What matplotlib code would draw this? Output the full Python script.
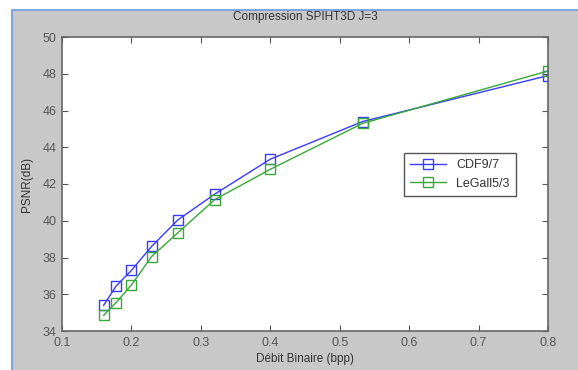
import matplotlib.pyplot as plt
from matplotlib.patches import Rectangle

plt.rcParams['font.family'] = ['Liberation Sans', 'DejaVu Sans']

# Debit binaire (bpp) and PSNR values
bpp = [0.16, 0.178, 0.2, 0.229, 0.267, 0.32, 0.4, 0.533, 0.8]
psnr_cdf97 = [35.4, 36.45, 37.3, 38.6, 40.05, 41.45, 43.35, 45.4, 47.9]
psnr_legall53 = [34.85, 35.55, 36.5, 38.05, 39.35, 41.15, 42.8, 45.3, 48.15]

xticks = [0.1, 0.2, 0.3, 0.4, 0.5, 0.6, 0.7, 0.8]
yticks = [34, 36, 38, 40, 42, 44, 46, 48, 50]

fig = plt.figure(figsize=(5.78, 3.70), dpi=100, facecolor='white')
# grey window background with the thin blue frame on the left and top
fig.patches.append(Rectangle((12 / 578, -0.01), 1, 1.01 - 10 / 370, transform=fig.transFigure,
                             facecolor='#c8c8c8', edgecolor='#6a9ad8', linewidth=1.2,
                             zorder=-10))

ax = fig.add_axes([62 / 578, 39 / 370, 486 / 578, 294 / 370])
ax.set_facecolor('white')

ax.plot(bpp, psnr_cdf97, color='#3a3aff', marker='s', markersize=6.5,
        markerfacecolor='none', linewidth=1, label='CDF9/7')
ax.plot(bpp, psnr_legall53, color='#38a838', marker='s', markersize=6.5,
        markerfacecolor='none', linewidth=1, label='LeGall5/3')

ax.set_xlim(0.1, 0.8)
ax.set_ylim(34, 50)
ax.set_xticks(xticks)
ax.set_yticks(yticks)
ax.set_xticklabels([f'{t:g}' for t in xticks])
ax.tick_params(direction='in', top=True, right=True, length=4, width=0.8,
               labelsize=9, colors='#555555', pad=4)
for s in ax.spines.values():
    s.set_color('#666666')
    s.set_linewidth(1.2)

ax.set_title('Compression SPIHT3D J=3', fontsize=8.5, color='#333333', pad=12)
ax.set_xlabel('Débit Binaire (bpp)', fontsize=8.5, color='#333333', labelpad=3)
ax.set_ylabel('PSNR(dB)', fontsize=8.5, color='#333333', labelpad=7)

leg = ax.legend(loc='center right', bbox_to_anchor=(0.947, 0.532), fontsize=9,
                fancybox=False, framealpha=1, edgecolor='#555555',
                handlelength=2.9, borderpad=0.5, labelspacing=0.5)
for t in leg.get_texts():
    t.set_color('#333333')

fig.savefig('out.png', dpi=100, facecolor=fig.get_facecolor())
